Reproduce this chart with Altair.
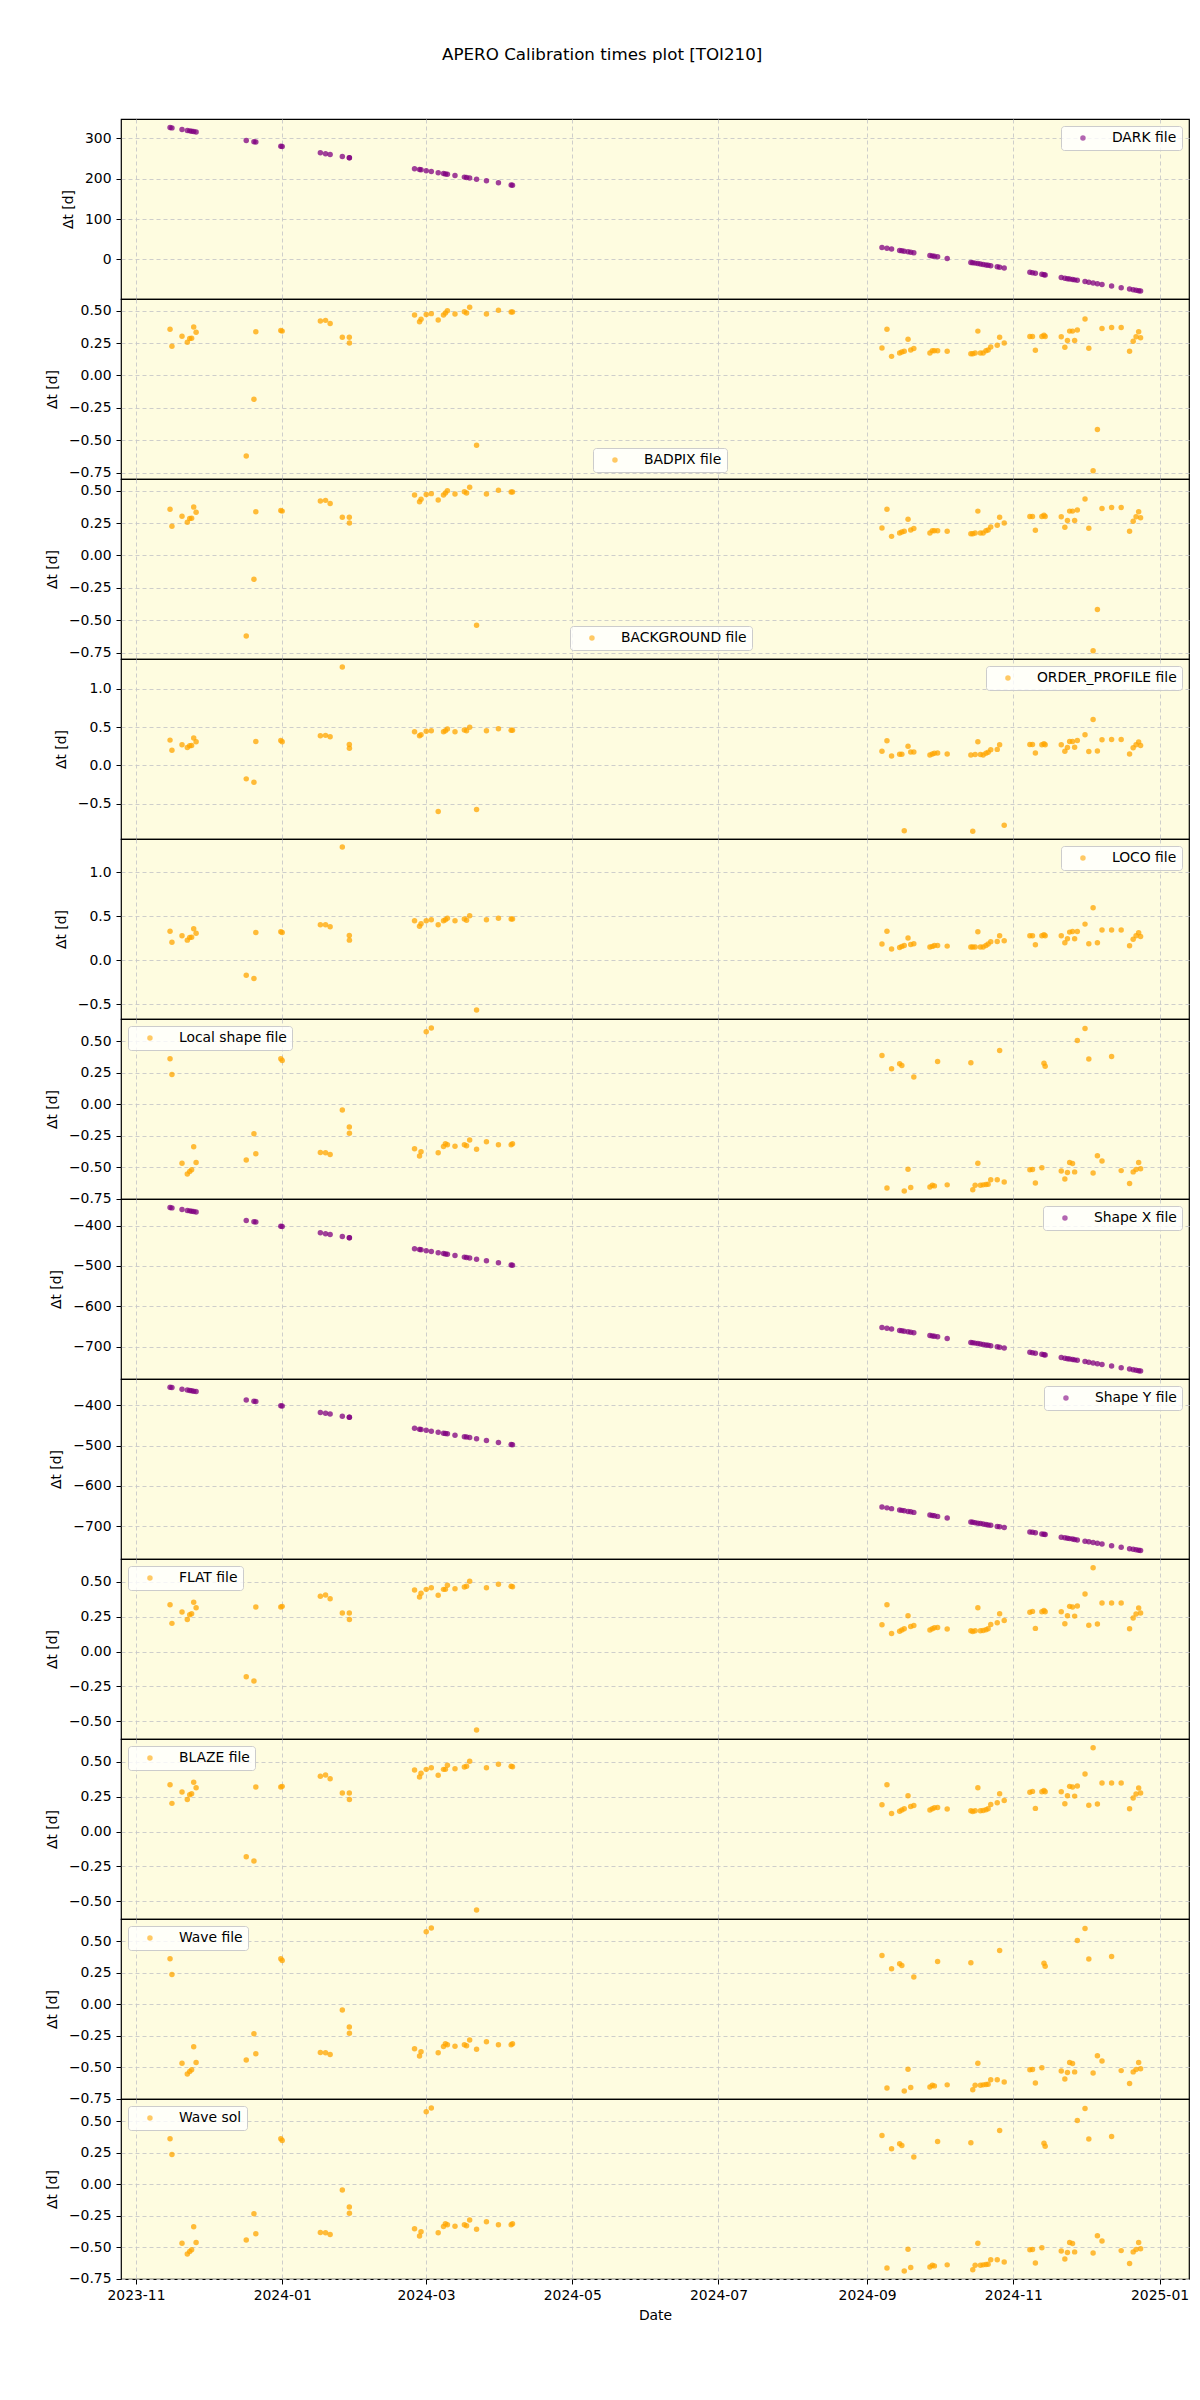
import altair as alt
import pandas as pd

FONT = "DejaVu Sans"
PURPLE = "#800080"
ORANGE = "#FFA500"

# observation dates (UTC)
obs_dates = [
    "2023-11-15T05:00", "2023-11-16T00:00", "2023-11-20T05:00", "2023-11-22T10:00", "2023-11-23T10:00",
    "2023-11-24T05:00", "2023-11-25T02:00", "2023-11-26T02:00", "2023-12-17T00:00", "2023-12-20T05:00",
    "2023-12-21T00:00", "2023-12-31T10:00", "2024-01-01T00:00", "2024-01-16T22:00", "2024-01-19T02:00",
    "2024-01-21T00:00", "2024-01-26T02:00", "2024-01-29T00:00", "2024-01-29T01:00", "2024-02-25T05:00",
    "2024-02-27T07:00", "2024-02-27T22:00", "2024-03-01T02:00", "2024-03-03T05:00", "2024-03-06T02:00",
    "2024-03-08T07:00", "2024-03-09T02:00", "2024-03-09T22:00", "2024-03-13T02:00", "2024-03-17T00:00",
    "2024-03-17T22:00", "2024-03-19T05:00", "2024-03-22T02:00", "2024-03-26T05:00", "2024-03-31T05:00",
    "2024-04-05T12:00", "2024-04-06T02:00",
    "2024-09-07T05:00", "2024-09-09T07:00", "2024-09-11T05:00", "2024-09-14T14:00", "2024-09-15T12:00",
    "2024-09-16T12:00", "2024-09-18T02:00", "2024-09-19T05:00", "2024-09-20T12:00", "2024-09-27T05:00",
    "2024-09-28T05:00", "2024-09-29T02:00", "2024-09-30T10:00", "2024-10-04T10:00", "2024-10-14T07:00",
    "2024-10-15T02:00", "2024-10-16T02:00", "2024-10-17T05:00", "2024-10-18T07:00", "2024-10-19T10:00",
    "2024-10-20T14:00", "2024-10-21T12:00", "2024-10-22T14:00", "2024-10-25T07:00", "2024-10-26T07:00",
    "2024-10-28T05:00", "2024-11-07T22:00", "2024-11-09T00:00", "2024-11-10T05:00", "2024-11-12T22:00",
    "2024-11-13T19:00", "2024-11-14T07:00", "2024-11-21T00:00", "2024-11-22T12:00", "2024-11-23T14:00",
    "2024-11-24T12:00", "2024-11-25T17:00", "2024-11-26T14:00", "2024-11-27T17:00", "2024-11-30T22:00",
    "2024-12-02T12:00", "2024-12-04T07:00", "2024-12-06T02:00", "2024-12-08T00:00", "2024-12-12T00:00",
    "2024-12-16T00:00", "2024-12-19T12:00", "2024-12-21T00:00", "2024-12-22T05:00", "2024-12-23T07:00",
    "2024-12-24T02:00",
]

dark_dt = [
    326.8, 326.0, 321.8, 319.6, 318.6, 317.8, 316.9, 315.9, 295.0, 291.8, 291.0, 280.6, 280.0, 264.1,
    261.9, 260.0, 254.9, 252.0, 252.0, 224.8, 222.7, 222.1, 219.9, 217.8, 214.9, 212.7, 211.9, 211.1,
    207.9, 204.0, 203.1, 201.8, 198.9, 194.8, 189.8, 184.5, 183.9,
    29.8, 27.7, 25.8, 22.4, 21.5, 20.5, 18.9, 17.8, 16.5, 9.8, 8.8, 7.9, 6.6, 2.6, -7.3, -8.1, -9.1,
    -10.2, -11.3, -12.4, -13.6, -14.5, -15.6, -18.3, -19.3, -21.2, -31.9, -33.0, -34.2, -36.9, -37.8,
    -38.3, -45.0, -46.5, -47.6, -48.5, -49.7, -50.6, -51.7, -54.9, -56.5, -58.3, -60.1, -62.0, -66.0,
    -70.0, -73.5, -75.0, -76.2, -77.3, -78.1,
]

badpix_dt = [
    0.357, 0.225, 0.303, 0.256, 0.285, 0.287, 0.373, 0.334, -0.623, -0.185, 0.337, 0.347, 0.342, 0.42,
    0.425, 0.40, 0.295, 0.295, 0.25, 0.466, 0.414, 0.433, 0.471, 0.477, 0.427, 0.466, 0.482, 0.50, 0.474,
    0.492, 0.482, 0.526, -0.54, 0.474, 0.503, 0.49, 0.49,
    0.212, 0.357, 0.147, 0.173, 0.181, 0.186, 0.28, 0.197, 0.207, 0.173, 0.19, 0.19, 0.19, 0.186, 0.168,
    0.168, 0.173, 0.342, 0.173, 0.173, 0.19, 0.197, 0.22, 0.233, 0.295, 0.25, 0.30, 0.30, 0.194, 0.30,
    0.31, 0.30, 0.298, 0.217, 0.27, 0.342, 0.342, 0.27, 0.35, 0.435, 0.21, -0.737, -0.418, 0.363, 0.37,
    0.37, 0.186, 0.264, 0.298, 0.337, 0.29,
]

background_dt = badpix_dt

order_profile_dt = [
    0.331, 0.20, 0.27, 0.234, 0.256, 0.26, 0.358, 0.31, -0.175, -0.22, 0.314, 0.327, 0.31, 0.388, 0.393,
    0.375, 1.286, 0.274, 0.226, 0.441, 0.388, 0.40, 0.446, 0.454, -0.60, 0.441, 0.454, 0.476, 0.441,
    0.463, 0.454, 0.498, -0.575, 0.454, 0.48, 0.459, 0.459,
    0.186, 0.322, 0.125, 0.147, 0.147, -0.852, 0.252, 0.177, 0.177, 0.138, 0.15, 0.16, 0.164, 0.15,
    0.138, -0.86, 0.142, 0.31, 0.142, 0.138, 0.16, 0.173, 0.204, 0.21, 0.27, -0.78, 0.274, 0.274, 0.164,
    0.27, 0.283, 0.27, 0.27, 0.186, 0.234, 0.314, 0.314, 0.239, 0.327, 0.40, 0.182, 0.60, 0.19, 0.336,
    0.34, 0.34, 0.15, 0.23, 0.27, 0.305, 0.26,
]

loco_dt = [
    0.333, 0.208, 0.28, 0.231, 0.261, 0.265, 0.36, 0.31, -0.167, -0.205, 0.318, 0.326, 0.318, 0.405,
    0.405, 0.383, 1.288, 0.284, 0.231, 0.45, 0.39, 0.417, 0.45, 0.462, 0.405, 0.45, 0.462, 0.48, 0.45,
    0.47, 0.458, 0.508, -0.564, 0.462, 0.48, 0.47, 0.47,
    0.186, 0.333, 0.129, 0.148, 0.16, 0.17, 0.254, 0.182, 0.19, 0.152, 0.16, 0.17, 0.17, 0.163, 0.152,
    0.152, 0.152, 0.326, 0.152, 0.152, 0.17, 0.186, 0.212, 0.216, 0.28, 0.223, 0.28, 0.28, 0.178, 0.28,
    0.292, 0.28, 0.28, 0.2, 0.246, 0.322, 0.33, 0.246, 0.33, 0.413, 0.19, 0.60, 0.2, 0.345, 0.345,
    0.345, 0.167, 0.242, 0.28, 0.314, 0.273,
]

local_shape_dt = [
    0.359, 0.235, -0.468, -0.553, -0.534, -0.52, -0.338, -0.463, -0.442, -0.235, -0.394, 0.359, 0.346,
    -0.383, -0.386, -0.40, -0.046, -0.182, -0.23, -0.354, -0.412, -0.378, 0.574, 0.603, -0.386, -0.335,
    -0.314, -0.322, -0.333, -0.322, -0.33, -0.285, -0.357, -0.298, -0.322, -0.322, -0.314,
    0.386, -0.664, 0.28, 0.32, 0.306, -0.688, -0.516, -0.66, 0.216, -0.657, -0.643, -0.648, 0.338,
    -0.64, 0.328, -0.678, -0.643, -0.468, -0.643, -0.64, -0.637, -0.635, -0.60, -0.60, 0.426, -0.617,
    -0.521, -0.519, -0.625, -0.505, 0.325, 0.30, -0.53, -0.593, -0.542, -0.463, -0.47, -0.537, 0.505,
    0.60, 0.357, -0.545, -0.41, -0.45, 0.378, -0.527, -0.63, -0.537, -0.519, -0.463, -0.513,
]

shape_x_dt = [
    -355.2, -356.0, -360.2, -362.4, -363.4, -364.2, -365.1, -366.1, -387.0, -390.2, -391.0, -401.4,
    -402.0, -417.9, -420.1, -422.0, -427.1, -430.0, -430.0, -457.2, -459.3, -459.9, -462.1, -464.2,
    -467.1, -469.3, -470.1, -470.9, -474.1, -478.0, -478.9, -480.2, -483.1, -487.2, -492.2, -497.5,
    -498.1,
    -652.2, -654.3, -656.2, -659.6, -660.5, -661.5, -663.1, -664.2, -665.5, -672.2, -673.2, -674.1,
    -675.4, -679.4, -689.3, -690.1, -691.1, -692.2, -693.3, -694.4, -695.6, -696.5, -697.6, -700.3,
    -701.3, -703.2, -713.9, -715.0, -716.2, -718.9, -719.8, -720.3, -727.0, -728.5, -729.6, -730.5,
    -731.7, -732.6, -733.7, -736.9, -738.5, -740.3, -742.1, -744.0, -748.0, -752.0, -755.5, -757.0,
    -758.2, -759.3, -760.1,
]

shape_y_dt = shape_x_dt

flat_dt = [
    0.337, 0.203, 0.284, 0.231, 0.265, 0.272, 0.354, 0.315, -0.181, -0.21, 0.32, 0.32, 0.325, 0.397,
    0.406, 0.38, 0.277, 0.277, 0.231, 0.442, 0.392, 0.42, 0.447, 0.459, 0.404, 0.447, 0.447, 0.476,
    0.452, 0.464, 0.47, 0.505, -0.562, 0.459, 0.483, 0.469, 0.465,
    0.193, 0.337, 0.131, 0.147, 0.155, 0.165, 0.258, 0.18, 0.187, 0.155, 0.164, 0.171, 0.174, 0.162,
    0.15, 0.145, 0.15, 0.315, 0.15, 0.152, 0.157, 0.165, 0.195, 0.207, 0.272, 0.224, 0.282, 0.289,
    0.167, 0.286, 0.295, 0.286, 0.286, 0.2, 0.258, 0.325, 0.32, 0.255, 0.327, 0.414, 0.19, 0.603, 0.198,
    0.349, 0.349, 0.349, 0.164, 0.241, 0.27, 0.313, 0.277,
]

blaze_dt = flat_dt
wave_file_dt = local_shape_dt
wave_sol_dt = local_shape_dt

x_tick_dates = [(2023, 11), (2024, 1), (2024, 3), (2024, 5), (2024, 7), (2024, 9), (2024, 11), (2025, 1)]

# (label, values, colour, y-domain, y-ticks, tick format, legend placement)
panels = [
    ("DARK file", dark_dt, PURPLE, [-98, 348], [0, 100, 200, 300], "d", {"orient": "top-right"}),
    ("BADPIX file", badpix_dt, ORANGE, [-0.80, 0.59], [-0.75, -0.5, -0.25, 0, 0.25, 0.5], ".2f",
     {"orient": "none", "legendX": 472, "legendY": 149}),
    ("BACKGROUND file", background_dt, ORANGE, [-0.80, 0.59], [-0.75, -0.5, -0.25, 0, 0.25, 0.5], ".2f",
     {"orient": "none", "legendX": 449, "legendY": 147}),
    ("ORDER_PROFILE file", order_profile_dt, ORANGE, [-0.96, 1.39], [-0.5, 0, 0.5, 1.0], ".1f",
     {"orient": "top-right"}),
    ("LOCO file", loco_dt, ORANGE, [-0.665, 1.38], [-0.5, 0, 0.5, 1.0], ".1f", {"orient": "top-right"}),
    ("Local shape file", local_shape_dt, ORANGE, [-0.752, 0.675], [-0.75, -0.5, -0.25, 0, 0.25, 0.5], ".2f",
     {"orient": "top-left"}),
    ("Shape X file", shape_x_dt, PURPLE, [-780, -334], [-700, -600, -500, -400], "d", {"orient": "top-right"}),
    ("Shape Y file", shape_y_dt, PURPLE, [-781, -335], [-700, -600, -500, -400], "d", {"orient": "top-right"}),
    ("FLAT file", flat_dt, ORANGE, [-0.627, 0.665], [-0.5, -0.25, 0, 0.25, 0.5], ".2f", {"orient": "top-left"}),
    ("BLAZE file", blaze_dt, ORANGE, [-0.627, 0.665], [-0.5, -0.25, 0, 0.25, 0.5], ".2f", {"orient": "top-left"}),
    ("Wave file", wave_file_dt, ORANGE, [-0.752, 0.675], [-0.75, -0.5, -0.25, 0, 0.25, 0.5], ".2f",
     {"orient": "top-left"}),
    ("Wave sol", wave_sol_dt, ORANGE, [-0.752, 0.675], [-0.75, -0.5, -0.25, 0, 0.25, 0.5], ".2f",
     {"orient": "top-left"}),
]

W, H = 1068, 180
x_domain = [alt.DateTime(year=2023, month=10, date=25, hours=18, utc=True),
            alt.DateTime(year=2025, month=1, date=13, hours=7, utc=True)]
x_values = [alt.DateTime(year=y, month=m, date=1, utc=True) for y, m in x_tick_dates]

charts = []
for i, (label, vals, colour, ydom, yticks, yfmt, leg) in enumerate(panels):
    assert len(vals) == len(obs_dates), label
    last = i == len(panels) - 1
    df = pd.DataFrame({"date": [d + ":00Z" for d in obs_dates], "dt": vals, "label": label})
    x_axis = alt.Axis(values=x_values, format="%Y-%m", labels=last, title="Date" if last else None,
                      tickSize=5, labelPadding=4, titlePadding=7, domain=False, labelFlush=False)
    legend = alt.Legend(
        title=None, offset=7, fillColor="rgba(255,255,255,0.8)", strokeColor="#cccccc",
        cornerRadius=3, padding=5, labelFont=FONT, labelFontSize=13.9, labelColor="black",
        symbolType="circle", symbolSize=30, symbolOpacity=0.6, symbolStrokeWidth=0,
        symbolOffset=10, labelOffset=22, **leg)
    ch = alt.Chart(df).mark_circle(size=30, opacity=0.75, clip=True).encode(
        x=alt.X("date:T", scale=alt.Scale(type="utc", domain=x_domain), axis=x_axis),
        y=alt.Y("dt:Q", scale=alt.Scale(domain=ydom, nice=False, zero=False),
                axis=alt.Axis(values=yticks, format=yfmt, title="Δt [d]", tickSize=5,
                              labelPadding=5, titlePadding=9, domain=False)),
        color=alt.Color("label:N", scale=alt.Scale(domain=[label], range=[colour]), legend=legend),
    ).properties(width=W, height=H)
    charts.append(ch)

chart = alt.vconcat(*charts, spacing=0, bounds="flush").resolve_scale(
    y="independent", color="independent"
).properties(
    title=alt.TitleParams("APERO Calibration times plot [TOI210]", font=FONT, fontSize=16.7,
                          fontWeight="normal", anchor="middle", offset=55, dx=-15, color="black"),
    padding={"left": 36, "top": 38, "right": 0, "bottom": 5},
).configure(font=FONT).configure_view(
    fill="#FEFCE0", stroke="black", strokeWidth=1.2
).configure_axis(
    labelFont=FONT, labelFontSize=13.9, labelColor="black", titleFont=FONT, titleFontSize=13.9,
    titleFontWeight="normal", titleColor="black", tickColor="black", tickWidth=1,
    gridColor="#c8c8c8", gridDash=[4, 3], gridWidth=0.9,
)

chart.save("out.html", embed_options={"renderer": "svg", "actions": False})
